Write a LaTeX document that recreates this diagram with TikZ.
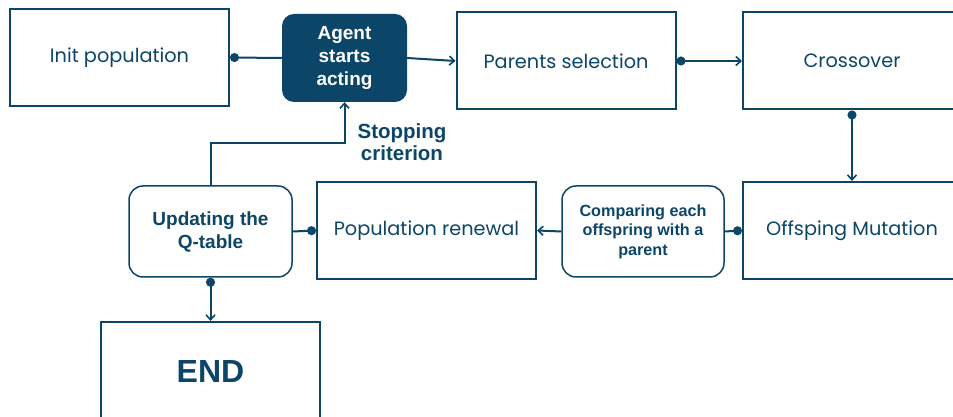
\documentclass[tikz,border=0pt]{standalone}
\usepackage{fontspec}
\setmainfont{Poppins}
\setsansfont{Liberation Sans}
\usetikzlibrary{arrows.meta}
\definecolor{flowblue}{HTML}{0B4668}

\tikzset{
  box/.style={draw=flowblue,line width=2pt,text=flowblue,minimum width=219pt,minimum height=97pt,font=\fontsize{19.3}{23}\selectfont},
  softbox/.style={draw=flowblue,line width=1.5pt,rounded corners=14pt,text=flowblue,align=center,font=\sffamily\bfseries\fontsize{19}{23}\selectfont},
  link/.style={flowblue,line width=2pt},
  arr/.style={link,-{Straight Barb[length=5pt,width=9pt,line width=1.6pt]}},
  dotarr/.style={link,{Circle[length=9pt]}-{Straight Barb[length=5pt,width=9pt,line width=1.6pt]}},
  dotline/.style={link,{Circle[length=9pt]}-}
}

\begin{document}
\begin{tikzpicture}[x=1pt,y=1pt]
  \useasboundingbox (0,0) rectangle (953,417);

  \node[box] (init) at (119.5,359.5) {Init population};
  \node[fill=flowblue,rounded corners=12pt,minimum width=125pt,minimum height=88pt,text=white,align=center,font=\sffamily\bfseries\fontsize{19}{23}\selectfont] (agent) at (344.5,359) {Agent\\starts\\acting};
  \node[box] (parents) at (566,356) {Parents selection};
  \node[box,minimum width=218pt] (cross) at (852,356) {Crossover};

  \node[box,minimum width=218pt] (mutation) at (852,186.5) {Offsping Mutation};
  \node[softbox,minimum width=162pt,minimum height=91pt,font=\sffamily\bfseries\fontsize{16.2}{19.5}\selectfont] (compare) at (643,185.5) {Comparing each\\offspring with a\\parent};
  \node[box] (renewal) at (426.5,186.5) {Population renewal};
  \node[softbox,minimum width=163pt,minimum height=91pt] (qtable) at (210.5,185.5) {Updating the\\Q-table};

  \node[box,minimum height=98pt,font=\sffamily\bfseries\fontsize{32}{36}\selectfont] (end) at (210.5,46) {END};

  \node[text=flowblue,align=center,font=\sffamily\bfseries\fontsize{20.5}{22}\selectfont] (stop) at (402,275) {Stopping\\criterion};
  \coordinate (turn) at (0,274);

  \draw[dotline] (init.east) -- (agent.west);
  \draw[arr] (agent.east) -- (parents.west);
  \draw[dotarr] (parents.east) -- (cross.west);
  \draw[dotarr] (cross.south) -- (mutation.north);
  \draw[dotline] (mutation.west) -- (compare.east);
  \draw[arr] (compare.west) -- (renewal.east);
  \draw[dotline] (renewal.west) -- (qtable.east);
  \draw[arr] (qtable.north) -- (qtable.north |- turn) -| (agent.south);
  \draw[dotarr] (qtable.south) -- (end.north);
\end{tikzpicture}
\end{document}
